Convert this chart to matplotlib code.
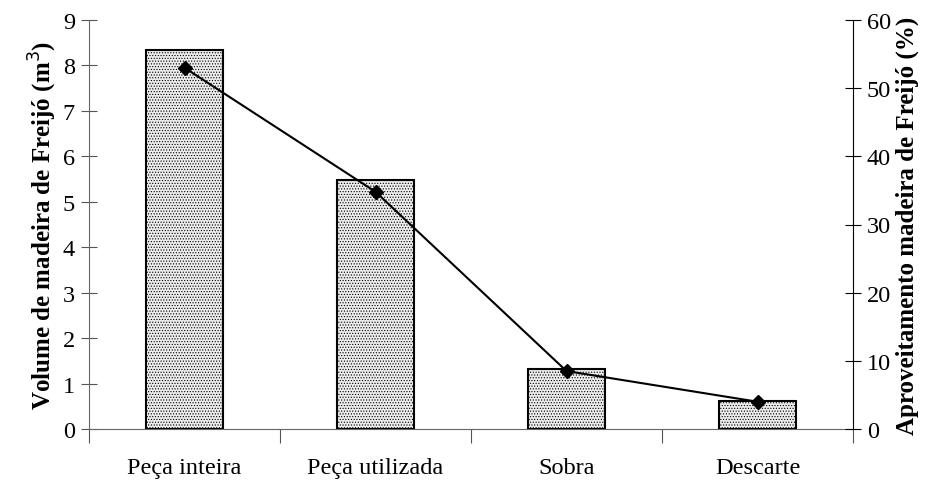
import matplotlib
matplotlib.use("Agg")
import matplotlib.pyplot as plt
import numpy as np

categories = ["Peça inteira", "Peça utilizada", "Sobra", "Descarte"]
volume = [8.35, 5.47, 1.32, 0.62]
aproveitamento = [53.0, 34.8, 8.5, 4.0]
left_ticks = list(range(0, 10))
right_ticks = list(range(0, 70, 10))

plt.rcParams['font.family'] = ['Liberation Serif', 'DejaVu Serif']
plt.rcParams['hatch.color'] = '#cfcfcf'
plt.rcParams['hatch.linewidth'] = 0.5

fig = plt.figure(figsize=(9.35, 4.81), dpi=100)
ax = fig.add_axes([89/935, 1-430/481, (853-89)/935, (430-21)/481])
x = np.arange(len(categories))
ax.bar(x, volume, width=0.4, facecolor='#ececec', edgecolor='black',
       linewidth=1.5, hatch='......', zorder=2)
ax.set_xlim(-0.5, len(categories) - 0.5)
ax.set_ylim(0, 9)
ax.set_yticks(left_ticks)
ax.tick_params(axis='y', direction='inout', length=12, labelsize=17.5, pad=4, color='#555555')
ax.set_xticks(np.arange(-0.5, len(categories), 1.0))
ax.set_xticklabels([])
ax.tick_params(axis='x', which='major', direction='out', length=10, color='#555555')
ax.set_xticks(x, minor=True)
ax.set_xticklabels(categories, minor=True)
ax.tick_params(axis='x', which='minor', length=0, labelsize=17.5, pad=20)
ax.spines['top'].set_visible(False)
ax.spines['right'].set_visible(False)
ax.spines['left'].set_color('#666666')
ax.spines['bottom'].set_color('#666666')
ax.set_ylabel("Volume de madeira de Freijó (m$^{3}$)", fontsize=18, fontweight='bold', labelpad=3)

ax2 = ax.twinx()
ax2.plot(x, aproveitamento, color='black', linewidth=1.5, marker='D', markersize=7.5, zorder=3)
ax2.set_ylim(0, 60)
ax2.set_yticks(right_ticks)
ax2.tick_params(axis='y', direction='inout', length=12, labelsize=17.5, pad=4)
for s in ['top', 'left', 'bottom']:
    ax2.spines[s].set_visible(False)
ax2.spines['right'].set_color('black')
ax2.set_ylabel("Aproveitamento madeira de Freijó (%)", fontsize=18, fontweight='bold', labelpad=3)

fig.savefig("out.png", dpi=100)
